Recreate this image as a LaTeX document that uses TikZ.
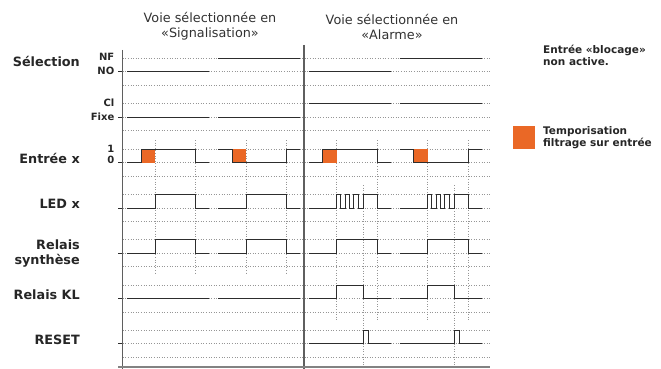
\documentclass[tikz,border=0pt]{standalone}
\usepackage{fontspec}
\setmainfont{DejaVu Sans}
\definecolor{sigc}{RGB}{45,45,45}
\definecolor{gridc}{RGB}{150,150,150}
\definecolor{axisc}{RGB}{95,95,95}
\definecolor{botc}{RGB}{130,130,130}
\definecolor{txtc}{RGB}{38,38,38}
\definecolor{ttlc}{RGB}{50,50,50}
\definecolor{orng}{RGB}{234,104,38}
\begin{document}
\begin{tikzpicture}[x=1pt,y=-1pt,
  sig/.style={draw=sigc, line width=0.95pt},
  gridln/.style={draw=gridc, line width=0.7pt, dash pattern=on 1pt off 1.6pt},
  axisln/.style={draw=axisc, line width=1.3pt},
  lbl/.style={font=\bfseries\fontsize{12.8}{15.5}\selectfont, text=txtc, anchor=east, inner sep=0pt, align=right},
  lvl/.style={font=\bfseries\fontsize{10}{11}\selectfont, text=txtc, anchor=east, inner sep=0pt},
  ttl/.style={font=\fontsize{12.8}{15}\selectfont, text=ttlc, align=center, inner sep=0pt},
  note/.style={font=\bfseries\fontsize{10.5}{12}\selectfont, text=txtc, align=left, anchor=west, inner sep=0pt},
  filt/.style={fill=orng, draw=none}]
\useasboundingbox (0,0) rectangle (661,369);

% horizontal dotted grid
\foreach \h in {58,103.5,149,194.3,239.5,285,330}{
  \draw[gridln] (122.7,\h) -- (490,\h);
  \draw[gridln] (122.7,\h+13.7) -- (490,\h+13.7);
  \draw[gridln] (122.7,\h+27) -- (490,\h+27);
  \draw[sig] (118,\h+13.7) -- (122.7,\h+13.7);
}

% vertical dotted guides
\foreach \s in {127,218}{
  \draw[gridln] ({\s+28},140) -- ({\s+28},275);
  \draw[gridln] ({\s+68.5},140) -- ({\s+68.5},275);
}
\foreach \s in {308.5,399.5}{
  \draw[gridln] ({\s+28},140) -- ({\s+28},320);
  \draw[gridln] ({\s+68.5},140) -- ({\s+68.5},320);
  \draw[gridln] ({\s+55},185) -- ({\s+55},367);
}

% axes
\draw[axisln] (122.7,50) -- (122.7,369);
\draw[axisln] (304,45) -- (304,369);
\draw[draw=botc, line width=1.8pt] (118,366.8) -- (490,366.8);

% Selection NF/NO
\draw[sig] (127,71.7) -- (209,71.7);
\draw[sig] (218,58) -- (300,58);
\draw[sig] (308.5,71.7) -- (390.5,71.7);
\draw[sig] (399.5,58) -- (481.5,58);
% Cl / Fixe
\draw[sig] (127,117.2) -- (209,117.2);
\draw[sig] (218,117.2) -- (300,117.2);
\draw[sig] (308.5,103.5) -- (390.5,103.5);
\draw[sig] (399.5,103.5) -- (481.5,103.5);

% Entree x
\foreach \s in {127,308.5}{
  \fill[orng] ({\s+14},149) rectangle ({\s+28},162.7);
  \draw[sig] (\s,162.7) -- ({\s+14},162.7) -- ({\s+14},149) -- ({\s+68.5},149) -- ({\s+68.5},162.7) -- ({\s+82},162.7);
}
\foreach \s in {218,399.5}{
  \fill[orng] ({\s+14},149) rectangle ({\s+28},162.7);
  \draw[sig] (\s,149) -- ({\s+14},149) -- ({\s+14},162.7) -- ({\s+68.5},162.7) -- ({\s+68.5},149) -- ({\s+82},149);
}

% LED x
\foreach \s in {127,218}{
  \draw[sig] (\s,208) -- ({\s+28},208) -- ({\s+28},194.3) -- ({\s+68.5},194.3) -- ({\s+68.5},208) -- ({\s+82},208);
}
\foreach \s in {308.5,399.5}{
  \draw[sig] (\s,208) -- ({\s+28},208)
    -- ({\s+28},194.3) -- ({\s+32.3},194.3) -- ({\s+32.3},208) -- ({\s+36.5},208)
    -- ({\s+36.5},194.3) -- ({\s+41},194.3) -- ({\s+41},208) -- ({\s+45.3},208)
    -- ({\s+45.3},194.3) -- ({\s+49.7},194.3) -- ({\s+49.7},208) -- ({\s+54.5},208)
    -- ({\s+54.5},194.3) -- ({\s+68.5},194.3) -- ({\s+68.5},208) -- ({\s+82},208);
}

% Relais synthese
\foreach \s in {127,218,308.5,399.5}{
  \draw[sig] (\s,253.2) -- ({\s+28},253.2) -- ({\s+28},239.5) -- ({\s+68.5},239.5) -- ({\s+68.5},253.2) -- ({\s+82},253.2);
}

% Relais KL
\foreach \s in {127,218}{
  \draw[sig] (\s,298.7) -- ({\s+82},298.7);
}
\foreach \s in {308.5,399.5}{
  \draw[sig] (\s,298.7) -- ({\s+28},298.7) -- ({\s+28},285) -- ({\s+55},285) -- ({\s+55},298.7) -- ({\s+82},298.7);
}

% RESET
\foreach \s in {308.5,399.5}{
  \draw[sig] (\s,343.7) -- ({\s+55},343.7) -- ({\s+55},330) -- ({\s+59.5},330) -- ({\s+59.5},343.7) -- ({\s+82},343.7);
}

% titles
\node[ttl] (t1) at (210,26.5) {Voie sélectionnée en\\«Signalisation»};
\node[ttl] (t2) at (392,26.5) {Voie sélectionnée en\\«Alarme»};

% row labels
\node[lbl] (lsel) at (80,61) {Sélection};
\node[lbl] (lent) at (80,158.5) {Entrée x};
\node[lbl] (lled) at (80,204) {LED x};
\node[lbl] (lrs) at (80,253.3) {Relais\\synthèse};
\node[lbl] (lkl) at (80,295) {Relais KL};
\node[lbl] (lrst) at (80,340) {RESET};

% level labels
\node[lvl] (nf) at (114.5,57) {NF};
\node[lvl] (no) at (114.5,70.7) {NO};
\node[lvl] (cl) at (114.5,102.7) {Cl};
\node[lvl] (fx) at (114.5,116.7) {Fixe};
\node[lvl] (one) at (114.5,148.5) {1};
\node[lvl] (zero) at (114.5,159.5) {0};

% notes
\node[note] (n1) at (543,55.5) {Entrée «blocage»\\non active.};
\node[fill=orng, minimum width=22.7pt, minimum height=22.3pt, inner sep=0pt, anchor=north west] (lg) at (512.3,126) {};
\node[note] (n2) at (543,137.8) {Temporisation\\filtrage sur entrée};
\end{tikzpicture}
\end{document}
